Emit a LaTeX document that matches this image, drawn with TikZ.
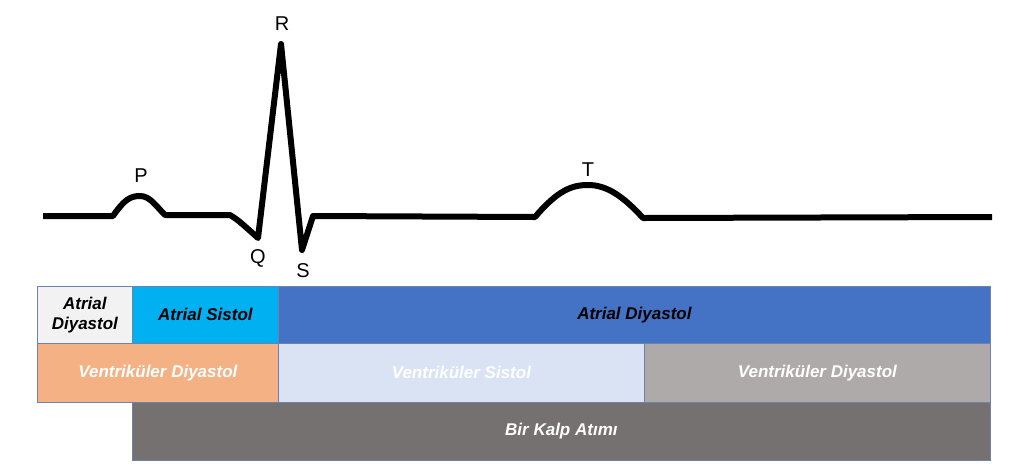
\documentclass[tikz,border=0pt]{standalone}
\usepackage{fontspec}
\setmainfont{Liberation Sans}
\usetikzlibrary{positioning}
\definecolor{edgeblue}{RGB}{110,130,170}
\definecolor{paleGray}{RGB}{242,242,242}
\definecolor{skyBlue}{RGB}{0,176,240}
\definecolor{royalBlue}{RGB}{68,114,196}
\definecolor{salmon}{RGB}{244,177,131}
\definecolor{paleBlue}{RGB}{218,227,243}
\definecolor{warmGray}{RGB}{174,170,170}
\definecolor{darkGray}{RGB}{118,113,113}
\tikzset{%
	phase/.style   = {draw=edgeblue, line width=0.8pt, rectangle, anchor=north west, inner sep=0pt, align=center,
	                  font=\fontsize{17pt}{20pt}\selectfont\bfseries\itshape},
	darktext/.style= {phase, text=black},
	lighttext/.style={phase, text=white},
	wave/.style    = {line width=6pt, line join=round, line cap=butt},
	peak/.style    = {font=\fontsize{20pt}{22pt}\selectfont, inner sep=0pt},
}
\begin{document}
\begin{tikzpicture}[x=1pt,y=-1pt]
		\useasboundingbox (0,0) rectangle (1024,467);
		% ecg trace
		\draw[wave] (43,216) -- (113,216) .. controls (124,200) and (130,196) .. (140,196) .. controls (150,196) and (156,206) .. (165,215)
			-- (230,215) .. controls (238,220) .. (258,238) -- (281,44) -- (302,250) -- (313,216)
			-- (535,217) .. controls (558,190) and (572,185) .. (588,185) .. controls (606,185) and (622,195) .. (643,218) -- (992,217);
		
		\node[peak] (P) at (141,176) {P};
		\node[peak] (R) at (282,24) {R};
		\node[peak] (Q) at (258,258) {Q};
		\node[peak] (S) at (303,271) {S};
		\node[peak] (T) at (588,170) {T};
		
		% atrial row
		\node[darktext, fill=paleGray, minimum width=95pt, minimum height=57pt] (adia1) at (37,286) {Atrial\\Diyastol};
		\node[darktext, fill=skyBlue, minimum width=146pt, minimum height=57pt] (asis) at (132,286) {Atrial Sistol};
		\node[darktext, fill=royalBlue, minimum width=712pt, minimum height=57pt] (adia2) at (278,286) {Atrial Diyastol};
		
		% ventricular row
		\node[lighttext, fill=salmon, minimum width=241pt, minimum height=59pt] (vdia1) at (37,343) {Ventriküler Diyastol};
		\node[lighttext, fill=paleBlue, minimum width=366pt, minimum height=59pt] (vsis) at (278,343) {Ventriküler Sistol};
		\node[lighttext, fill=warmGray, minimum width=346pt, minimum height=59pt] (vdia2) at (644,343) {Ventriküler Diyastol};
		
		% one beat
		\node[lighttext, fill=darkGray, minimum width=858pt, minimum height=58pt] (beat) at (132,402) {Bir Kalp Atımı};
		\end{tikzpicture}
\end{document}
